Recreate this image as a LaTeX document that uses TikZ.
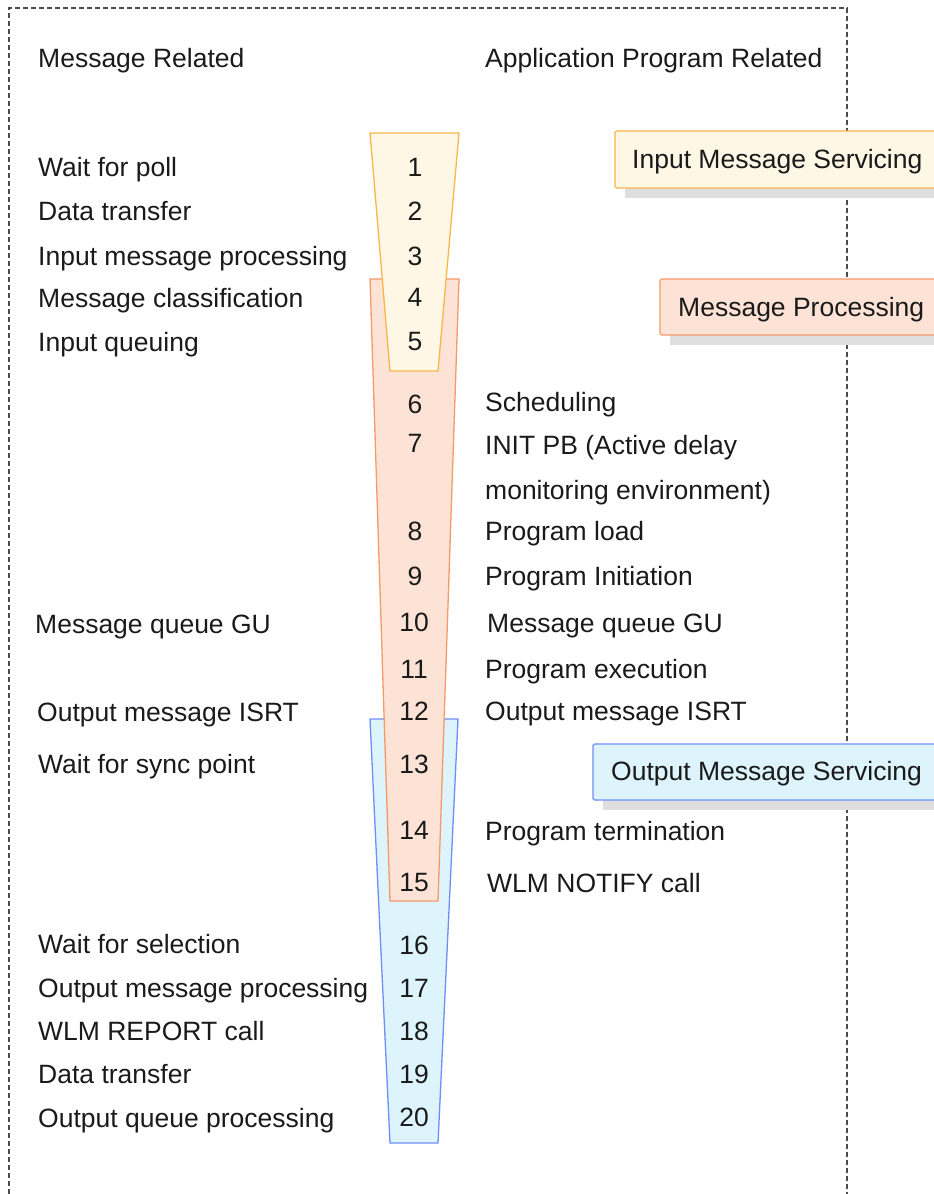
\documentclass[tikz,border=0pt]{standalone}
\usepackage{fontspec}
\setmainfont{Liberation Sans}
\definecolor{yfill}{HTML}{FEF7E6}
\definecolor{ydraw}{HTML}{F8B54A}
\definecolor{ofill}{HTML}{FDE3D6}
\definecolor{odraw}{HTML}{F39A6A}
\definecolor{bfill}{HTML}{DDF4FD}
\definecolor{bdraw}{HTML}{6D8EF8}
\definecolor{txt}{HTML}{1A1A1A}
\begin{document}
\begin{tikzpicture}[x=1pt,y=-1pt,
  lbl/.style={anchor=base west,inner sep=0pt,font=\fontsize{26.5}{30}\selectfont,text=txt},
  num/.style={anchor=base,inner sep=0pt,font=\fontsize{26.5}{30}\selectfont,text=txt},
  shadowbox/.style={fill=black!13,draw=none},
  frame/.style={draw=black!70,line width=1.4pt,dash pattern=on 5pt off 3pt}]
\useasboundingbox (0,0) rectangle (934,1194);
% frame
\draw[frame] (9,1210) -- (9,8) -- (847,8) -- (847,1210);
% trapezoids
\draw[fill=bfill,draw=bdraw,line width=1.3pt] (370,719) -- (458,719) -- (438,1143) -- (390,1143) -- cycle;
\draw[fill=ofill,draw=odraw,line width=1.3pt] (370,279) -- (459,279) -- (438,901) -- (390,901) -- cycle;
\draw[fill=yfill,draw=ydraw,line width=1.3pt] (370,133) -- (459,133) -- (438,371) -- (390,371) -- cycle;
% boxes
\fill[shadowbox] (625,141) rectangle (950,198);
\draw[fill=yfill,draw=ydraw,line width=1.3pt,rounded corners=1.5pt] (615,131) rectangle (950,188);
\fill[shadowbox] (670,289) rectangle (950,345);
\draw[fill=ofill,draw=odraw,line width=1.3pt,rounded corners=1.5pt] (660,279) rectangle (950,335);
\fill[shadowbox] (603,754) rectangle (950,810);
\draw[fill=bfill,draw=bdraw,line width=1.3pt,rounded corners=1.5pt] (593,744) rectangle (950,800);
\node[lbl] (bx1) at (632,168.5) {Input Message Servicing};
\node[lbl] (bx2) at (678,316.5) {Message Processing};
\node[lbl] (bx3) at (611,780.5) {Output Message Servicing};
% headers
\node[lbl] (h1) at (38,67) {Message Related};
\node[lbl] (h2) at (485,67) {Application Program Related};
% left column
\node[lbl] (l1) at (38,176.5) {Wait for poll};
\node[lbl] (l2) at (38,220.5) {Data transfer};
\node[lbl] (l3) at (38,265.5) {Input message processing};
\node[lbl] (l4) at (38,307.5) {Message classification};
\node[lbl] (l5) at (38,351.5) {Input queuing};
\node[lbl] (l10) at (35,633.5) {Message queue GU};
\node[lbl] (l12) at (37,721.5) {Output message ISRT};
\node[lbl] (l13) at (38,773.5) {Wait for sync point};
\node[lbl] (l16) at (38,953.5) {Wait for selection};
\node[lbl] (l17) at (38,997.5) {Output message processing};
\node[lbl] (l18) at (38,1040.5) {WLM REPORT call};
\node[lbl] (l19) at (38,1083.5) {Data transfer};
\node[lbl] (l20) at (38,1127.5) {Output queue processing};
% numbers
\node[num] (n1) at (415,176.5) {1};
\node[num] (n2) at (415,220.5) {2};
\node[num] (n3) at (415,265.5) {3};
\node[num] (n4) at (415,306.5) {4};
\node[num] (n5) at (415,350.5) {5};
\node[num] (n6) at (415,413.5) {6};
\node[num] (n7) at (415,452.5) {7};
\node[num] (n8) at (415,540.5) {8};
\node[num] (n9) at (415,585.5) {9};
\node[num] (n10) at (414,631.5) {10};
\node[num] (n11) at (414,678.5) {11};
\node[num] (n12) at (414,720.5) {12};
\node[num] (n13) at (414,773.5) {13};
\node[num] (n14) at (414,839.5) {14};
\node[num] (n15) at (414,891.5) {15};
\node[num] (n16) at (414,954.5) {16};
\node[num] (n17) at (414,997.5) {17};
\node[num] (n18) at (414,1040.5) {18};
\node[num] (n19) at (414,1083.5) {19};
\node[num] (n20) at (414,1126.5) {20};
% right column
\node[lbl] (r6) at (485,411.5) {Scheduling};
\node[lbl] (r7) at (485,454.5) {INIT PB (Active delay};
\node[lbl] (r7b) at (485,499.5) {monitoring environment)};
\node[lbl] (r8) at (485,540.5) {Program load};
\node[lbl] (r9) at (485,585.5) {Program Initiation};
\node[lbl] (r10) at (487,632.5) {Message queue GU};
\node[lbl] (r11) at (485,678.5) {Program execution};
\node[lbl] (r12) at (485,720.5) {Output message ISRT};
\node[lbl] (r14) at (485,840.5) {Program termination};
\node[lbl] (r15) at (487,892.5) {WLM NOTIFY call};
\end{tikzpicture}
\end{document}
